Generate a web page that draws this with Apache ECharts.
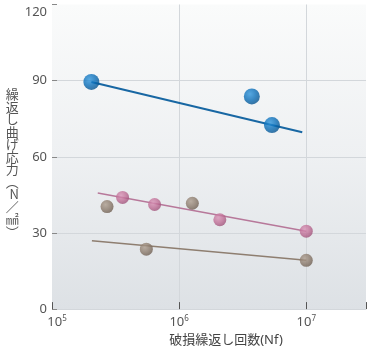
<!DOCTYPE html>
<html>
<head>
<meta charset="utf-8">
<script src="https://cdn.jsdelivr.net/npm/echarts@6/dist/echarts.min.js"></script>
<style>
  html, body { margin: 0; padding: 0; background: #ffffff; }
  #chart { width: 369px; height: 352px; }
</style>
</head>
<body>
<div id="chart"></div>
<script>
// Fatigue (S-N) data: cycles to failure vs. repeated bending stress
const yTicks = [0, 30, 60, 90, 120];
const xDecades = [5, 6, 7];

const blueCycles = [2.04e5, 3.73e6, 5.37e6];
const blueStress = [89.5, 83.8, 72.5];
const blueFitCycles = [2.04e5, 9.3e6];
const blueFitStress = [89.5, 69.7];

const pinkCycles = [3.59e5, 6.41e5, 2.09e6, 1.0e7];
const pinkStress = [44.0, 41.2, 35.2, 30.7];
const pinkFitCycles = [2.29e5, 1.0e7];
const pinkFitStress = [45.7, 30.7];

const brownCycles = [2.71e5, 5.52e5, 1.27e6, 1.0e7];
const brownStress = [40.4, 23.6, 41.7, 19.2];
const brownFitCycles = [2.06e5, 1.0e7];
const brownFitStress = [26.9, 19.2];

const FONT = "'Noto Sans', 'Noto Sans CJK JP', sans-serif";
const GRID = '#d3d7db';

function pairs(xs, ys) { return xs.map((x, i) => [x, ys[i]]); }

function sphere(hi, base, edge) {
  return {
    type: 'radial', x: 0.38, y: 0.35, r: 0.7,
    colorStops: [
      { offset: 0, color: hi },
      { offset: 0.55, color: base },
      { offset: 1, color: edge }
    ]
  };
}

const chart = echarts.init(document.getElementById('chart'), null, { renderer: 'canvas' });

chart.setOption({
  animation: false,
  backgroundColor: '#ffffff',
  textStyle: { fontFamily: FONT },
  grid: {
    left: 52, right: 0, top: 4.5, bottom: 38.7,
    show: true, borderWidth: 0,
    backgroundColor: {
      type: 'linear', x: 0, y: 0, x2: 0, y2: 1,
      colorStops: [
        { offset: 0, color: '#fafbfb' },
        { offset: 0.5, color: '#eef0f2' },
        { offset: 1, color: '#dde1e5' }
      ]
    }
  },
  xAxis: {
    type: 'log', logBase: 10,
    min: 1e5, max: 2.95e7,
    name: '破損繰返し回数(Nf)',
    nameLocation: 'middle', nameGap: 24,
    nameTextStyle: { color: '#444', fontSize: 13, fontFamily: FONT, padding: [0, 0, 0, 34] },
    axisLine: { show: false },
    axisTick: { show: true, inside: true, length: 7, lineStyle: { color: '#555', width: 1 } },
    splitLine: { show: true, lineStyle: { color: ['transparent', GRID, GRID, 'transparent'], width: 1 } },
    axisLabel: {
      margin: 6,
      color: '#555',
      fontSize: 13,
      formatter: function (v) {
        const e = Math.round(Math.log10(v));
        if (Math.abs(Math.log10(v) - e) > 1e-6 || xDecades.indexOf(e) < 0) return '';
        return (e === 5 ? '{b5|10}' : '{b|10}') + '{s|' + e + '}';
      },
      rich: {
        b: { fontSize: 13, color: '#555', fontFamily: FONT },
        b5: { fontSize: 13, color: '#555', fontFamily: FONT, padding: [0, 0, 0, 10] },
        s: { fontSize: 8, color: '#555', fontFamily: FONT, padding: [0, 0, 7, 0] }
      }
    }
  },
  yAxis: {
    type: 'value',
    min: yTicks[0], max: yTicks[yTicks.length - 1], interval: 30,
    // vertical title, one glyph per line; the leading blank line sets it a little lower
    name: ' \n繰\n返\nし\n曲\nげ\n応\n力\n︵\nN\n／\n㎟\n︶',
    nameLocation: 'middle', nameRotate: 0, nameGap: 33,
    nameTextStyle: { color: '#555', fontSize: 13, lineHeight: 12.5, fontFamily: "'Noto Sans CJK JP', sans-serif" },
    axisLine: { show: false },
    axisTick: { show: true, inside: true, length: 5, lineStyle: { color: '#888' } },
    splitLine: { show: true, lineStyle: { color: [GRID, GRID, GRID, GRID, 'transparent'], width: 1 } },
    axisLabel: {
      margin: 5, color: '#555', fontSize: 13,
      formatter: function (v) { return v === 120 ? '{t|120}' : String(v); },
      rich: { t: { fontSize: 13, color: '#555', fontFamily: FONT, padding: [16, 0, 0, 0] } }
    }
  },
  series: [
    {
      type: 'line', data: pairs(blueFitCycles, blueFitStress), symbol: 'none',
      lineStyle: { color: '#1867a3', width: 2 }, z: 2
    },
    {
      type: 'line', data: pairs(pinkFitCycles, pinkFitStress), symbol: 'none',
      lineStyle: { color: '#b7789a', width: 1.5 }, z: 2
    },
    {
      type: 'line', data: pairs(brownFitCycles, brownFitStress), symbol: 'none',
      lineStyle: { color: '#8e7e70', width: 1.5 }, z: 2
    },
    {
      type: 'scatter', data: pairs(blueCycles, blueStress), symbolSize: 16,
      itemStyle: { color: sphere('#2f95dc', '#0a6db7', '#05508a') }, z: 3
    },
    {
      type: 'scatter', data: pairs(pinkCycles, pinkStress), symbolSize: 13,
      itemStyle: { color: sphere('#d993b6', '#c06e96', '#9c5077') }, z: 3
    },
    {
      type: 'scatter', data: pairs(brownCycles, brownStress), symbolSize: 13,
      itemStyle: { color: sphere('#ad9d8e', '#8c7b6c', '#6c5c4f') }, z: 3
    }
  ]
});
</script>
</body>
</html>
